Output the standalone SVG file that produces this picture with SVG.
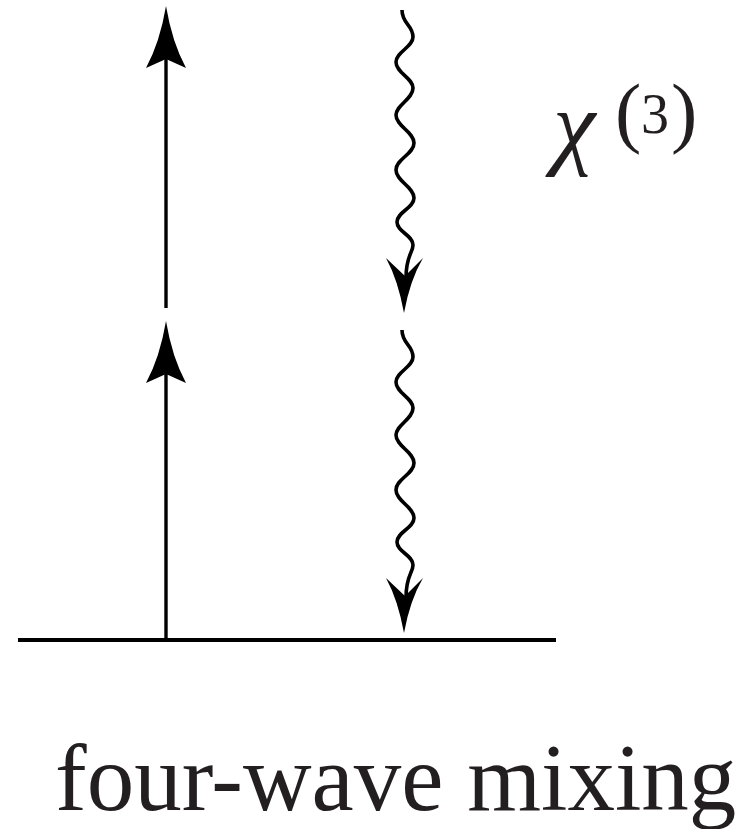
<svg xmlns="http://www.w3.org/2000/svg" width="753" height="829" viewBox="0 0 753 829">
<rect width="753" height="829" fill="#fff"/>
<text x="55" y="810" font-size="95" font-family="Liberation Serif" fill="#231f20">four-wave mixing</text>
<text x="553" y="157" font-size="96" font-style="italic" font-family="Liberation Serif" fill="#231f20">χ</text>
<text x="615" y="138" font-size="79" font-family="Liberation Serif" fill="#231f20">(</text>
<text x="641" y="133" font-size="56" font-family="Liberation Serif" fill="#231f20">3</text>
<text x="671" y="138" font-size="79" font-family="Liberation Serif" fill="#231f20">)</text>
<defs>
<path id="upHead" d="M0,0 Q6,36 20,62 L0,53 L-20,62 Q-6,36 0,0 Z" fill="#000"/>
<path id="downHead" d="M0,0 Q-6,-33 -18,-55 L1,-37 L19,-55 Q6,-33 0,0 Z" fill="#000"/>
</defs>
<g id="ground">
<line x1="18" y1="640" x2="556" y2="640" stroke="#000" stroke-width="3.8"/>
</g>
<g id="connectors" fill="none" stroke="#000" stroke-width="3.4">
<g id="pump-arrow-1">
<line x1="166" y1="640" x2="166" y2="372"/>
<use href="#upHead" x="166" y="321" stroke="none"/>
</g>
<g id="pump-arrow-2">
<line x1="166" y1="308" x2="166" y2="56"/>
<use href="#upHead" x="166" y="6" stroke="none"/>
</g>
<g id="wave-arrow-1">
<path stroke-width="3.6" d="M402,10 C402,24 413,25 413,37 C413,47 396,52 396,62 C396,73 413,78 413,88 C413,99 396,105 396,115 C396,126 414,132 414,143 C414,154 396,159 396,170 C396,181 414,187 414,198 C414,208 397,212 397,222 C397,232 413,235 413,245 C413,253 406,255 406,278"/>
<use href="#downHead" x="404" y="313" stroke="none"/>
</g>
<g id="wave-arrow-2">
<path stroke-width="3.6" d="M402,330 C402,344 413,345 413,357 C413,367 396,372 396,382 C396,393 413,398 413,408 C413,419 396,425 396,435 C396,446 414,452 414,463 C414,474 396,479 396,490 C396,501 414,507 414,518 C414,528 397,532 397,542 C397,552 413,555 413,565 C413,573 406,575 406,598"/>
<use href="#downHead" x="404" y="633" stroke="none"/>
</g>
</g>
</svg>
